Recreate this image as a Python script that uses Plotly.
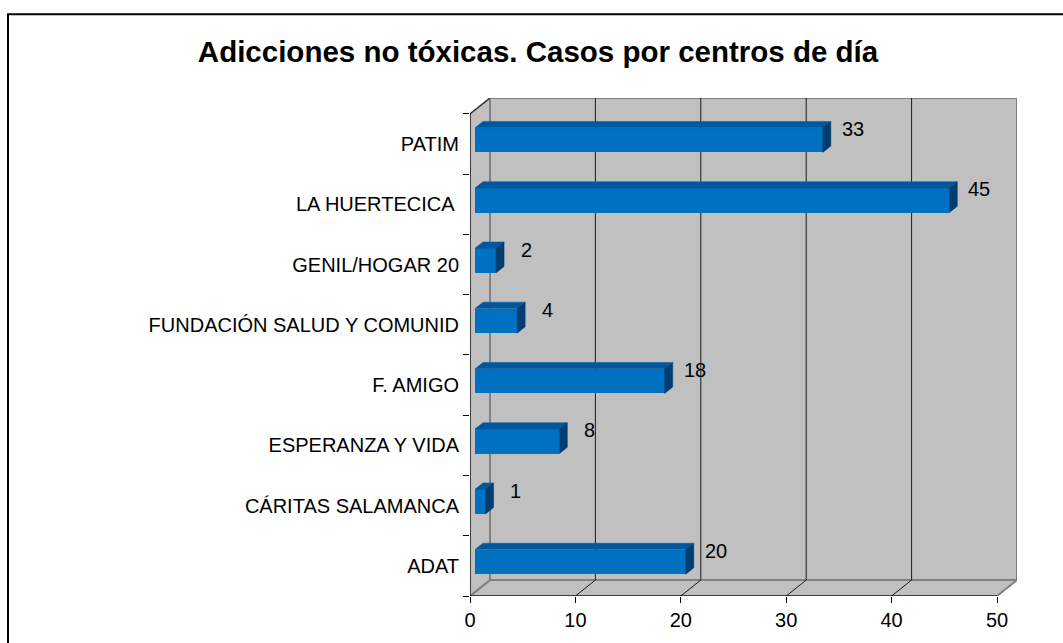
import plotly.graph_objects as go

# ---- data ----
categories = ["ADAT", "CÁRITAS SALAMANCA", "ESPERANZA Y VIDA", "F. AMIGO",
              "FUNDACIÓN SALUD Y COMUNID", "GENIL/HOGAR 20", "LA HUERTECICA ", "PATIM"]
values = [20, 1, 8, 18, 4, 2, 45, 33]
x_ticks = [0, 10, 20, 30, 40, 50]
title = "Adicciones no tóxicas. Casos por centros de día"

# ---- layout geometry (pixels) ----
W, H = 1063, 643
ML, MB = 470, 45
PX = 10.54            # pixels per unit on x
CAT_PX = 60.5         # pixels per category
DX_PX, DY_PX = 20, 16  # 3D depth offset
XMAX = 50
n = len(categories)

dxu = DX_PX / PX
dyu = DY_PX / CAT_PX
pw = XMAX * PX + DX_PX
ph = n * CAT_PX + DY_PX
MR = W - ML - pw
MT = H - MB - ph

WALL = "#C0C0C0"
EDGE = "#808080"
FRONT = "#0070C0"
TOP = "#00589C"
SIDE = "#003D70"
FONT = "Arial, Liberation Sans, sans-serif"
FS = 20

fig = go.Figure()

shapes = []
# floor
shapes.append(dict(type="path", layer="below", xref="x", yref="y",
                   path=f"M0,0 L{XMAX},0 L{XMAX+dxu},{dyu} L{dxu},{dyu} Z",
                   fillcolor=WALL, line=dict(color=EDGE, width=2)))
# left wall
shapes.append(dict(type="path", layer="below", xref="x", yref="y",
                   path=f"M0,0 L{dxu},{dyu} L{dxu},{n+dyu} L0,{n} Z",
                   fillcolor=WALL, line=dict(color=EDGE, width=2)))
# back wall
shapes.append(dict(type="rect", layer="below", xref="x", yref="y",
                   x0=dxu, y0=dyu, x1=XMAX + dxu, y1=n + dyu,
                   fillcolor=WALL, line=dict(color=EDGE, width=2)))
# gridlines on back wall and floor diagonals
for v in x_ticks[1:-1]:
    shapes.append(dict(type="line", layer="below", xref="x", yref="y",
                       x0=v + dxu, y0=dyu, x1=v + dxu, y1=n + dyu,
                       line=dict(color="#1a1a1a", width=1)))
    shapes.append(dict(type="line", layer="below", xref="x", yref="y",
                       x0=v, y0=0, x1=v + dxu, y1=dyu,
                       line=dict(color="#1a1a1a", width=1)))
# top-left diagonal
shapes.append(dict(type="line", layer="below", xref="x", yref="y",
                   x0=0, y0=n, x1=dxu, y1=n + dyu,
                   line=dict(color="#1a1a1a", width=1)))
# front axes
shapes.append(dict(type="line", layer="below", xref="x", yref="y",
                   x0=0, y0=0, x1=XMAX, y1=0, line=dict(color="black", width=1)))
shapes.append(dict(type="line", layer="below", xref="x", yref="y",
                   x0=0, y0=0, x1=0, y1=n, line=dict(color="black", width=1)))

# outer chart border (top and left)
def px_x(p):
    return (p - ML) / pw

def px_y(p):
    return (H - MB - p) / ph

shapes.append(dict(type="line", xref="paper", yref="paper",
                   x0=px_x(7), y0=px_y(14), x1=px_x(W + 5), y1=px_y(14),
                   line=dict(color="black", width=2)))
shapes.append(dict(type="line", xref="paper", yref="paper",
                   x0=px_x(8), y0=px_y(14), x1=px_x(8), y1=px_y(H + 5),
                   line=dict(color="black", width=2)))

# ---- bars ----
F_FRONT, F_BACK = 0.25, 0.65
BH = 24.7 / CAT_PX
x0f = F_FRONT * dxu
yshift_f = F_FRONT * dyu
ddx = (F_BACK - F_FRONT) * dxu
ddy = (F_BACK - F_FRONT) * dyu
centers = [i + 0.5 + yshift_f for i in range(n)]

fig.add_trace(go.Bar(orientation="h", x=values, y=centers, base=x0f,
                     width=BH, marker=dict(color=FRONT, line=dict(width=0)),
                     hoverinfo="skip", showlegend=False))

top_x, top_y, side_x, side_y = [], [], [], []
for v, yc in zip(values, centers):
    yt = yc + BH / 2
    yb = yc - BH / 2
    x1 = x0f + v
    top_x += [x0f, x1, x1 + ddx, x0f + ddx, x0f, None]
    top_y += [yt, yt, yt + ddy, yt + ddy, yt, None]
    side_x += [x1, x1, x1 + ddx, x1 + ddx, x1, None]
    side_y += [yb, yt, yt + ddy, yb + ddy, yb, None]

fig.add_trace(go.Scatter(x=top_x, y=top_y, fill="toself", fillcolor=TOP, mode="lines",
                         line=dict(color=TOP, width=0.5), hoverinfo="skip", showlegend=False))
fig.add_trace(go.Scatter(x=side_x, y=side_y, fill="toself", fillcolor=SIDE, mode="lines",
                         line=dict(color=SIDE, width=0.5), hoverinfo="skip", showlegend=False))

# value labels
annotations = []
for v, yc in zip(values, centers):
    annotations.append(dict(x=v, y=yc, xref="x", yref="y", text=str(v), showarrow=False,
                            xshift=35, yshift=11, font=dict(family=FONT, size=FS, color="black")))

fig.update_layout(
    width=W, height=H,
    margin=dict(l=ML, r=MR, t=MT, b=MB, pad=0),
    paper_bgcolor="white", plot_bgcolor="white",
    title=dict(text=f"<b>{title}</b>", x=538 / W, y=1 - 52 / H, xanchor="center", yanchor="middle",
               font=dict(family=FONT, size=29.5, color="black")),
    xaxis=dict(range=[0, XMAX + dxu], tickvals=x_ticks, ticks="outside", ticklen=6,
               tickcolor="black", showgrid=False, zeroline=False, showline=False,
               tickfont=dict(family=FONT, size=FS, color="black")),
    yaxis=dict(range=[0, n + dyu], tickvals=[i + 0.5 for i in range(n)], ticktext=categories,
               ticks="", showgrid=False, zeroline=False, showline=False,
               ticklabelstandoff=10,
               minor=dict(ticks="outside", tick0=0, dtick=1, ticklen=6, tickcolor="black",
                          showgrid=False),
               tickfont=dict(family=FONT, size=FS, color="black")),
    shapes=shapes, annotations=annotations, bargap=0,
)

fig.write_html("out.html", config={"displayModeBar": False},
               post_script="document.body.style.margin='0';document.body.style.overflow='hidden';")
